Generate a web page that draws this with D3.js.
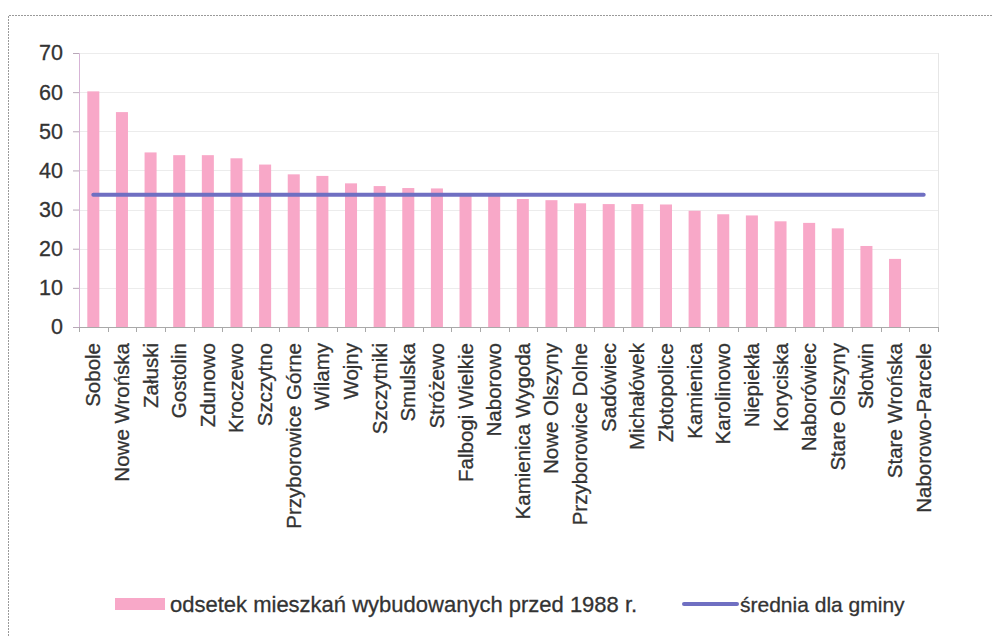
<!DOCTYPE html>
<html>
<head>
<meta charset="utf-8">
<script src="https://cdn.jsdelivr.net/npm/d3@7"></script>
<style>
  html, body { margin: 0; padding: 0; background: #fff; }
  svg { display: block; font-family: "Liberation Sans", Arial, sans-serif; }
</style>
</head>
<body>
<svg id="chart" width="992" height="636"></svg>
<script>
const categories = ["Sobole","Nowe Wrońska","Załuski","Gostolin","Zdunowo","Kroczewo","Szczytno","Przyborowice Górne","Wilamy","Wojny","Szczytniki","Smulska","Stróżewo","Falbogi Wielkie","Naborowo","Kamienica Wygoda","Nowe Olszyny","Przyborowice Dolne","Sadówiec","Michałówek","Złotopolice","Kamienica","Karolinowo","Niepiekła","Koryciska","Naborówiec","Stare Olszyny","Słotwin","Stare Wrońska","Naborowo-Parcele"];
const values = [60.2,54.9,44.6,43.9,43.9,43.1,41.5,39.0,38.6,36.7,36.0,35.5,35.4,34.0,33.8,32.7,32.4,31.6,31.4,31.4,31.3,29.7,28.8,28.5,27.0,26.6,25.2,20.7,17.4,0];
const averageValue = 33.8;
const yTicks = [0,10,20,30,40,50,60,70];
const seriesNames = ["odsetek mieszkań wybudowanych przed 1988 r.", "średnia dla gminy"];

const svg = d3.select("#chart");
const plot = {left: 79, right: 938, top: 53, bottom: 327};
const barColor = "#f8a8c8";
const lineColor = "#6f6fc2";
const textColor = "#333333";

// outer dashed frame
svg.append("path")
  .attr("d", "M8.5,636 V15.5 H992")
  .attr("fill", "none").attr("stroke", "#9a9a9a").attr("stroke-width", 1)
  .attr("stroke-dasharray", "2,1");

const x = d3.scaleBand().domain(categories).range([plot.left, plot.right]).padding(0);
const y = d3.scaleLinear().domain([0, 70]).range([plot.bottom, plot.top]);

// gridlines
svg.append("g").selectAll("line").data(yTicks.filter(d => d > 0)).join("line")
  .attr("x1", plot.left).attr("x2", plot.right)
  .attr("y1", d => Math.round(y(d)) + 0.5).attr("y2", d => Math.round(y(d)) + 0.5)
  .attr("stroke", "#ececec").attr("stroke-width", 1);
// plot right border
svg.append("line").attr("x1", plot.right + 0.5).attr("x2", plot.right + 0.5)
  .attr("y1", plot.top).attr("y2", plot.bottom).attr("stroke", "#e6e6e6");

// bars
const barW = x.bandwidth() * 0.42;
svg.append("g").selectAll("rect").data(values).join("rect")
  .attr("x", (d, i) => x(categories[i]) + (x.bandwidth() - barW) / 2)
  .attr("width", barW)
  .attr("y", d => y(d))
  .attr("height", d => y(0) - y(d))
  .attr("fill", barColor);

// y axis
const yAxis = svg.append("g").attr("transform", `translate(${plot.left},0)`)
  .call(d3.axisLeft(y).tickValues(yTicks).tickSize(6).tickPadding(10));
yAxis.select(".domain").attr("stroke", "#d7b4d6");
yAxis.selectAll(".tick line").attr("stroke", "#b8a8b8");
yAxis.selectAll(".tick text").attr("font-size", 21.5).attr("fill", textColor)
  .attr("stroke", textColor).attr("stroke-width", 0.3)
  .attr("font-family", "Liberation Sans, Arial, sans-serif");

// x axis
const xAxis = svg.append("g").attr("transform", `translate(0,${plot.bottom})`)
  .call(d3.axisBottom(x).tickSize(0).tickPadding(0));
xAxis.select(".domain").attr("stroke", "#a9a9a9");
// tick marks at band boundaries
const boundaries = categories.map(c => x(c)).concat([plot.right]);
svg.append("g").selectAll("line").data(boundaries).join("line")
  .attr("x1", d => Math.round(d) + 0.5).attr("x2", d => Math.round(d) + 0.5)
  .attr("y1", plot.bottom).attr("y2", plot.bottom + 5)
  .attr("stroke", "#a9a9a9");
xAxis.selectAll(".tick text")
  .attr("font-size", 20.5).attr("fill", textColor)
  .attr("stroke", textColor).attr("stroke-width", 0.3)
  .attr("font-family", "Liberation Sans, Arial, sans-serif")
  .attr("text-anchor", "end")
  .attr("dy", null)
  .attr("transform", "translate(7,16) rotate(-90)");

// average line
svg.append("line")
  .attr("x1", x(categories[0]) + x.bandwidth() / 2)
  .attr("x2", x(categories[categories.length - 1]) + x.bandwidth() / 2)
  .attr("y1", y(averageValue)).attr("y2", y(averageValue))
  .attr("stroke", lineColor).attr("stroke-width", 4).attr("stroke-linecap", "round");

// legend
const lg = svg.append("g");
lg.append("rect").attr("x", 115).attr("y", 598).attr("width", 50).attr("height", 12).attr("fill", barColor);
lg.append("text").attr("x", 170).attr("y", 612).attr("font-size", 22).attr("fill", textColor)
  .attr("stroke", textColor).attr("stroke-width", 0.3).text(seriesNames[0]);
lg.append("line").attr("x1", 684).attr("x2", 737).attr("y1", 604).attr("y2", 604)
  .attr("stroke", lineColor).attr("stroke-width", 4).attr("stroke-linecap", "round");
lg.append("text").attr("x", 740).attr("y", 612).attr("font-size", 21).attr("fill", textColor)
  .attr("stroke", textColor).attr("stroke-width", 0.3).text(seriesNames[1]);
</script>
</body>
</html>
